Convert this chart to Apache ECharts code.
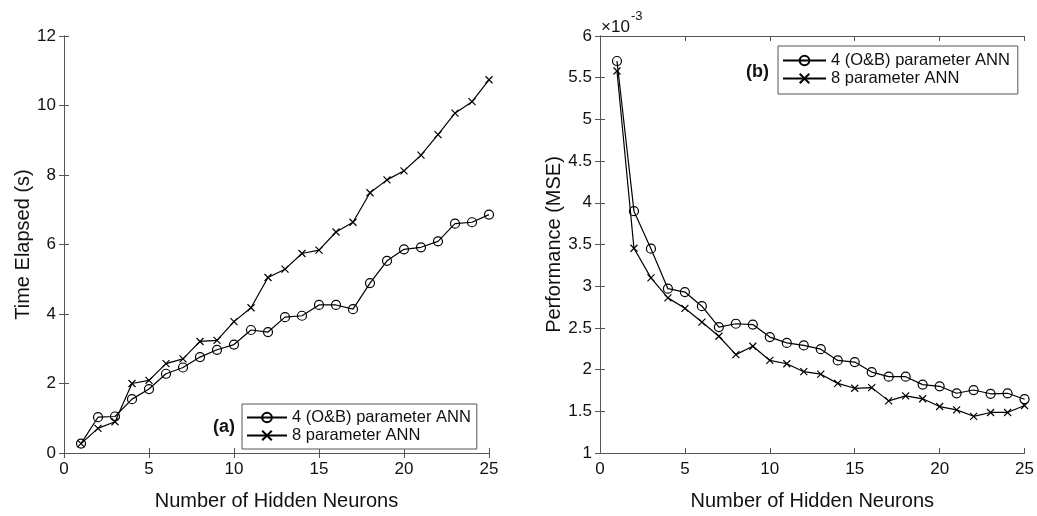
<!DOCTYPE html>
<html>
<head>
<meta charset="utf-8">
<script src="https://cdn.jsdelivr.net/npm/echarts@6/dist/echarts.min.js"></script>
<style>html,body{margin:0;padding:0;background:#fff}#c{width:1037px;height:516px}</style>
</head>
<body>
<div id="c"></div>
<script>
// ---- data ----
const neurons = [1,2,3,4,5,6,7,8,9,10,11,12,13,14,15,16,17,18,19,20,21,22,23,24,25];
const timeOB = [0.27,1.03,1.05,1.55,1.84,2.28,2.46,2.76,2.97,3.12,3.54,3.48,3.91,3.95,4.26,4.26,4.14,4.89,5.53,5.86,5.92,6.09,6.60,6.64,6.86];
const time8  = [0.27,0.71,0.90,2.00,2.09,2.57,2.71,3.21,3.24,3.78,4.18,5.05,5.29,5.74,5.84,6.36,6.64,7.49,7.86,8.12,8.57,9.16,9.78,10.11,10.74];
// MSE values in units of 1e-3
const mseOB = [5.70,3.90,3.45,2.97,2.93,2.76,2.51,2.55,2.54,2.39,2.32,2.29,2.245,2.11,2.09,1.97,1.915,1.915,1.82,1.80,1.716,1.755,1.71,1.716,1.645];
const mse8  = [5.58,3.455,3.10,2.86,2.735,2.57,2.40,2.18,2.28,2.11,2.07,1.975,1.945,1.835,1.776,1.784,1.625,1.685,1.65,1.557,1.517,1.44,1.486,1.486,1.57];
const seriesNames = ['4 (O&B) parameter ANN', '8 parameter ANN'];
const xTitle = 'Number of Hidden Neurons';
const yTitleA = 'Time Elapsed (s)';
const yTitleB = 'Performance (MSE)';

const FONT = '"Liberation Sans", Arial, sans-serif';
const AX = '#555';
const pairs = (ys) => neurons.map((n, i) => [n, ys[i]]);
const crossPath = 'path://M0,0L10,10M10,0L0,10';

function xAxes(gi) {
  return [
    {type:'value', gridIndex:gi, min:0, max:25, interval:5, position:'bottom',
     name:xTitle, nameLocation:'middle', nameGap:38,
     nameTextStyle:{fontFamily:FONT, fontSize:20, color:'#111'},
     axisLine:{lineStyle:{color:AX, width:1}},
     axisTick:{inside:true, length:5, lineStyle:{color:AX}},
     axisLabel:{fontFamily:FONT, fontSize:17, color:'#111', margin:8},
     splitLine:{show:false}},
    {type:'value', gridIndex:gi, min:0, max:25, interval:5, position:'top',
     axisLine:{lineStyle:{color:AX, width:1}},
     axisTick:{inside:true, length:5, lineStyle:{color:AX}},
     axisLabel:{show:false}, splitLine:{show:false}}
  ];
}
function yAxes(gi, min, max, interval, title) {
  return [
    {type:'value', gridIndex:gi, min:min, max:max, interval:interval, position:'left',
     name:title, nameLocation:'middle', nameGap:26, nameRotate:90,
     nameTextStyle:{fontFamily:FONT, fontSize:20, color:'#111'},
     axisLine:{show:true, lineStyle:{color:AX, width:1}},
     axisTick:{show:true, inside:true, length:5, lineStyle:{color:AX}},
     axisLabel:{fontFamily:FONT, fontSize:17, color:'#111', margin:8},
     splitLine:{show:false}},
    {type:'value', gridIndex:gi, min:min, max:max, interval:interval, position:'right',
     axisLine:{show:true, lineStyle:{color:AX, width:1}},
     axisTick:{show:true, inside:true, length:5, lineStyle:{color:AX}},
     axisLabel:{show:false}, splitLine:{show:false}}
  ];
}
function mkSeries(name, xi, yi, data, isCircle) {
  return {
    type:'line', name:name, xAxisIndex:xi, yAxisIndex:yi, data:data,
    symbol: isCircle ? 'circle' : crossPath,
    symbolSize: isCircle ? 9 : 7,
    showAllSymbol:true,
    lineStyle:{color:'#000', width:1.2},
    itemStyle: isCircle ? {color:'rgba(0,0,0,0)', borderColor:'#000', borderWidth:1.2}
                        : {color:'#000', borderColor:'#000', borderWidth:1.2},
    emphasis:{disabled:true}
  };
}
function mkLegend(left, top, iw, pad) {
  return {
    left:left, top:top, orient:'vertical',
    data:seriesNames.map(n => ({name:n})),
    itemWidth:iw, itemHeight:12, itemGap:1,
    padding:pad,
    borderColor:AX, borderWidth:1, backgroundColor:'#fff',
    textStyle:{fontFamily:FONT, fontSize:16.5, color:'#111', lineHeight:16},
    selectedMode:false
  };
}

const chart = echarts.init(document.getElementById('c'), null, {renderer:'canvas'});
chart.setOption({
  animation:false,
  backgroundColor:'#fff',
  grid:[
    {left:64, top:36, width:425, height:419},
    {left:600, top:36, width:426, height:419}
  ],
  xAxis:[...xAxes(0), ...xAxes(1)],
  yAxis:[...yAxes(0, 0, 12, 2, yTitleA), ...yAxes(1, 1, 6, 0.5, yTitleB)],
  legend:[mkLegend(242, 404, 40, [5,6,5,4]), mkLegend(778, 46, 43, [6,8,7,4])],
  series:[
    mkSeries(seriesNames[0], 0, 0, pairs(timeOB), true),
    mkSeries(seriesNames[1], 0, 0, pairs(time8), false),
    mkSeries(seriesNames[0], 2, 2, pairs(mseOB), true),
    mkSeries(seriesNames[1], 2, 2, pairs(mse8), false)
  ],
  graphic:[
    {type:'text', left:213, top:418, style:{text:'(a)', font:'bold 18px "Liberation Sans", Arial, sans-serif', fill:'#111'}},
    {type:'text', left:746, top:63, style:{text:'(b)', font:'bold 18px "Liberation Sans", Arial, sans-serif', fill:'#111'}},
    {type:'text', left:601, top:19, style:{text:'\u00d710', font:'17px "Liberation Sans", Arial, sans-serif', fill:'#111'}},
    {type:'text', left:631, top:10, style:{text:'-3', font:'13px "Liberation Sans", Arial, sans-serif', fill:'#111'}}
  ]
});
</script>
</body>
</html>
